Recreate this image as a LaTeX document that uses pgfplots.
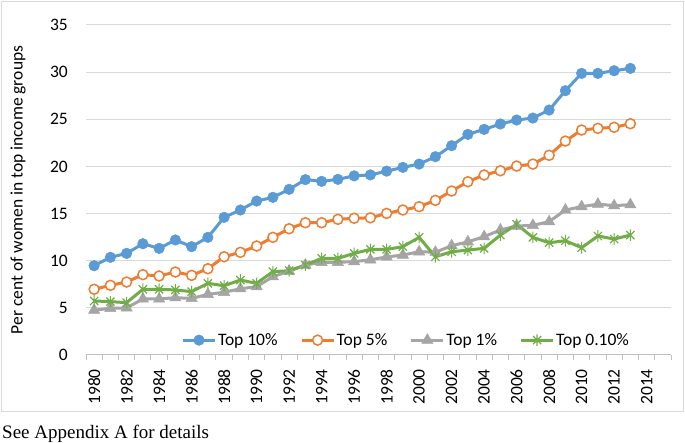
\documentclass[border=0pt]{standalone}
\usepackage{pgfplots}
\pgfplotsset{compat=1.18}
\usepackage{fontspec}
\setmainfont{Carlito}
\newfontfamily\tnr{Liberation Serif}
\definecolor{cblue}{HTML}{5B9BD5}
\definecolor{corange}{HTML}{ED7D31}
\definecolor{cgray}{HTML}{A5A5A5}
\definecolor{cgreen}{HTML}{70AD47}
\definecolor{cgrid}{HTML}{D9D9D9}
\definecolor{caxis}{HTML}{BFBFBF}
\pgfdeclareplotmark{xstar}{%
  \pgfpathmoveto{\pgfqpoint{0pt}{\pgfplotmarksize}}%
  \pgfpathlineto{\pgfqpoint{0pt}{-\pgfplotmarksize}}%
  \pgfpathmoveto{\pgfqpoint{0.707\pgfplotmarksize}{0.707\pgfplotmarksize}}%
  \pgfpathlineto{\pgfqpoint{-0.707\pgfplotmarksize}{-0.707\pgfplotmarksize}}%
  \pgfpathmoveto{\pgfqpoint{-0.707\pgfplotmarksize}{0.707\pgfplotmarksize}}%
  \pgfpathlineto{\pgfqpoint{0.707\pgfplotmarksize}{-0.707\pgfplotmarksize}}%
  \pgfusepathqstroke}
\begin{document}
\begin{tikzpicture}[font=\fontsize{17.5bp}{21bp}\selectfont]
\useasboundingbox (0,0) rectangle (685bp,443bp);
\draw[cgrid, line width=1bp] (1.5bp,31bp) rectangle (683.5bp,441.5bp);
\begin{axis}[
  at={(86bp,88bp)}, anchor=south west,
  scale only axis, width=585bp, height=330bp,
  xmin=1979.5, xmax=2015.5, ymin=0, ymax=35,
  ytick={0,5,...,35},
  xtick={1980,1982,...,2014},
  minor xtick={1979.5,1980.5,...,2015.5},
  xticklabel style={/pgf/number format/1000 sep={}},
  /pgf/number format/assume math mode=true,
  ymajorgrids, grid style={cgrid, line width=1bp},
  axis x line*=bottom, axis y line*=left,
  x axis line style={draw=caxis, line width=1bp, -},
  y axis line style={draw=none},
  xtick pos=bottom, tick align=outside,
  major tick length=0pt, minor tick length=5bp,
  minor tick style={caxis, line width=1bp},
  y tick label style={anchor=east, inner sep=0pt, xshift=-18bp},
  x tick label style={yshift=-14bp, rotate=90, anchor=east, inner sep=0pt},
  ylabel={Per cent of women in top income groups},
  ylabel style={at={(axis description cs:-0.116,0.5)}, anchor=center, rotate=0},
  legend columns=4,
  legend style={draw=none, fill=none, at={(0.547,0.045)}, anchor=center,
    /tikz/every even column/.append style={column sep=21bp},
    nodes={inner xsep=1.5bp, inner ysep=0pt}},
  legend image code/.code={\draw[mark repeat=2, mark phase=2] plot coordinates {(0bp,0bp) (16bp,0bp) (32bp,0bp)};},
]
\addplot[cblue, line width=3bp, mark=*, mark size=5.3bp, mark options={fill=cblue, draw=cblue, line width=0.5bp}] coordinates {
(1980,9.47)(1981,10.36)(1982,10.78)(1983,11.8)(1984,11.31)(1985,12.2)(1986,11.49)(1987,12.48)
(1988,14.6)(1989,15.38)(1990,16.33)(1991,16.72)(1992,17.57)(1993,18.6)(1994,18.42)(1995,18.63)
(1996,19.0)(1997,19.1)(1998,19.5)(1999,19.9)(2000,20.25)(2001,21.03)(2002,22.2)(2003,23.4)
(2004,23.93)(2005,24.5)(2006,24.92)(2007,25.13)(2008,25.98)(2009,28.03)(2010,29.87)(2011,29.87)
(2012,30.15)(2013,30.4)};
\addlegendentry{Top 10\%}
\addplot[corange, line width=3bp, mark=*, mark size=5bp, mark options={fill=white, draw=corange, line width=1.5bp}] coordinates {
(1980,6.97)(1981,7.39)(1982,7.74)(1983,8.52)(1984,8.38)(1985,8.8)(1986,8.45)(1987,9.15)
(1988,10.42)(1989,10.89)(1990,11.56)(1991,12.48)(1992,13.39)(1993,14.03)(1994,14.03)(1995,14.39)
(1996,14.5)(1997,14.55)(1998,15.02)(1999,15.38)(2000,15.73)(2001,16.4)(2002,17.39)(2003,18.38)
(2004,19.09)(2005,19.54)(2006,20.04)(2007,20.25)(2008,21.18)(2009,22.69)(2010,23.86)(2011,24.04)
(2012,24.15)(2013,24.53)};
\addlegendentry{Top 5\%}
\addplot[cgray, line width=3bp, mark=triangle*, mark size=6.5bp, mark options={fill=cgray, draw=cgray, line width=0.5bp}] coordinates {
(1980,4.75)(1981,4.95)(1982,5.0)(1983,5.94)(1984,5.94)(1985,6.08)(1986,6.0)(1987,6.43)
(1988,6.65)(1989,7.03)(1990,7.25)(1991,8.3)(1992,8.9)(1993,9.54)(1994,9.83)(1995,9.83)
(1996,9.9)(1997,10.1)(1998,10.4)(1999,10.6)(2000,10.95)(2001,10.9)(2002,11.59)(2003,12.0)
(2004,12.55)(2005,13.26)(2006,13.68)(2007,13.75)(2008,14.14)(2009,15.38)(2010,15.73)(2011,16.0)
(2012,15.84)(2013,15.94)};
\addlegendentry{Top 1\%}
\addplot[cgreen, line width=3bp, mark=xstar, mark size=5.8bp, mark options={draw=cgreen, line width=1.2bp}] coordinates {
(1980,5.73)(1981,5.66)(1982,5.55)(1983,6.97)(1984,6.97)(1985,6.9)(1986,6.72)(1987,7.6)
(1988,7.35)(1989,7.95)(1990,7.6)(1991,8.84)(1992,8.94)(1993,9.54)(1994,10.25)(1995,10.25)
(1996,10.78)(1997,11.2)(1998,11.2)(1999,11.49)(2000,12.48)(2001,10.42)(2002,10.95)(2003,11.13)
(2004,11.31)(2005,12.72)(2006,13.86)(2007,12.48)(2008,11.91)(2009,12.12)(2010,11.38)(2011,12.62)
(2012,12.3)(2013,12.72)};
\addlegendentry{Top 0.10\%}
\end{axis}
\node[anchor=base west, inner sep=0pt, font=\tnr\fontsize{19bp}{23bp}\selectfont] at (2bp,4.3bp) {See Appendix A for details};
\end{tikzpicture}
\end{document}
